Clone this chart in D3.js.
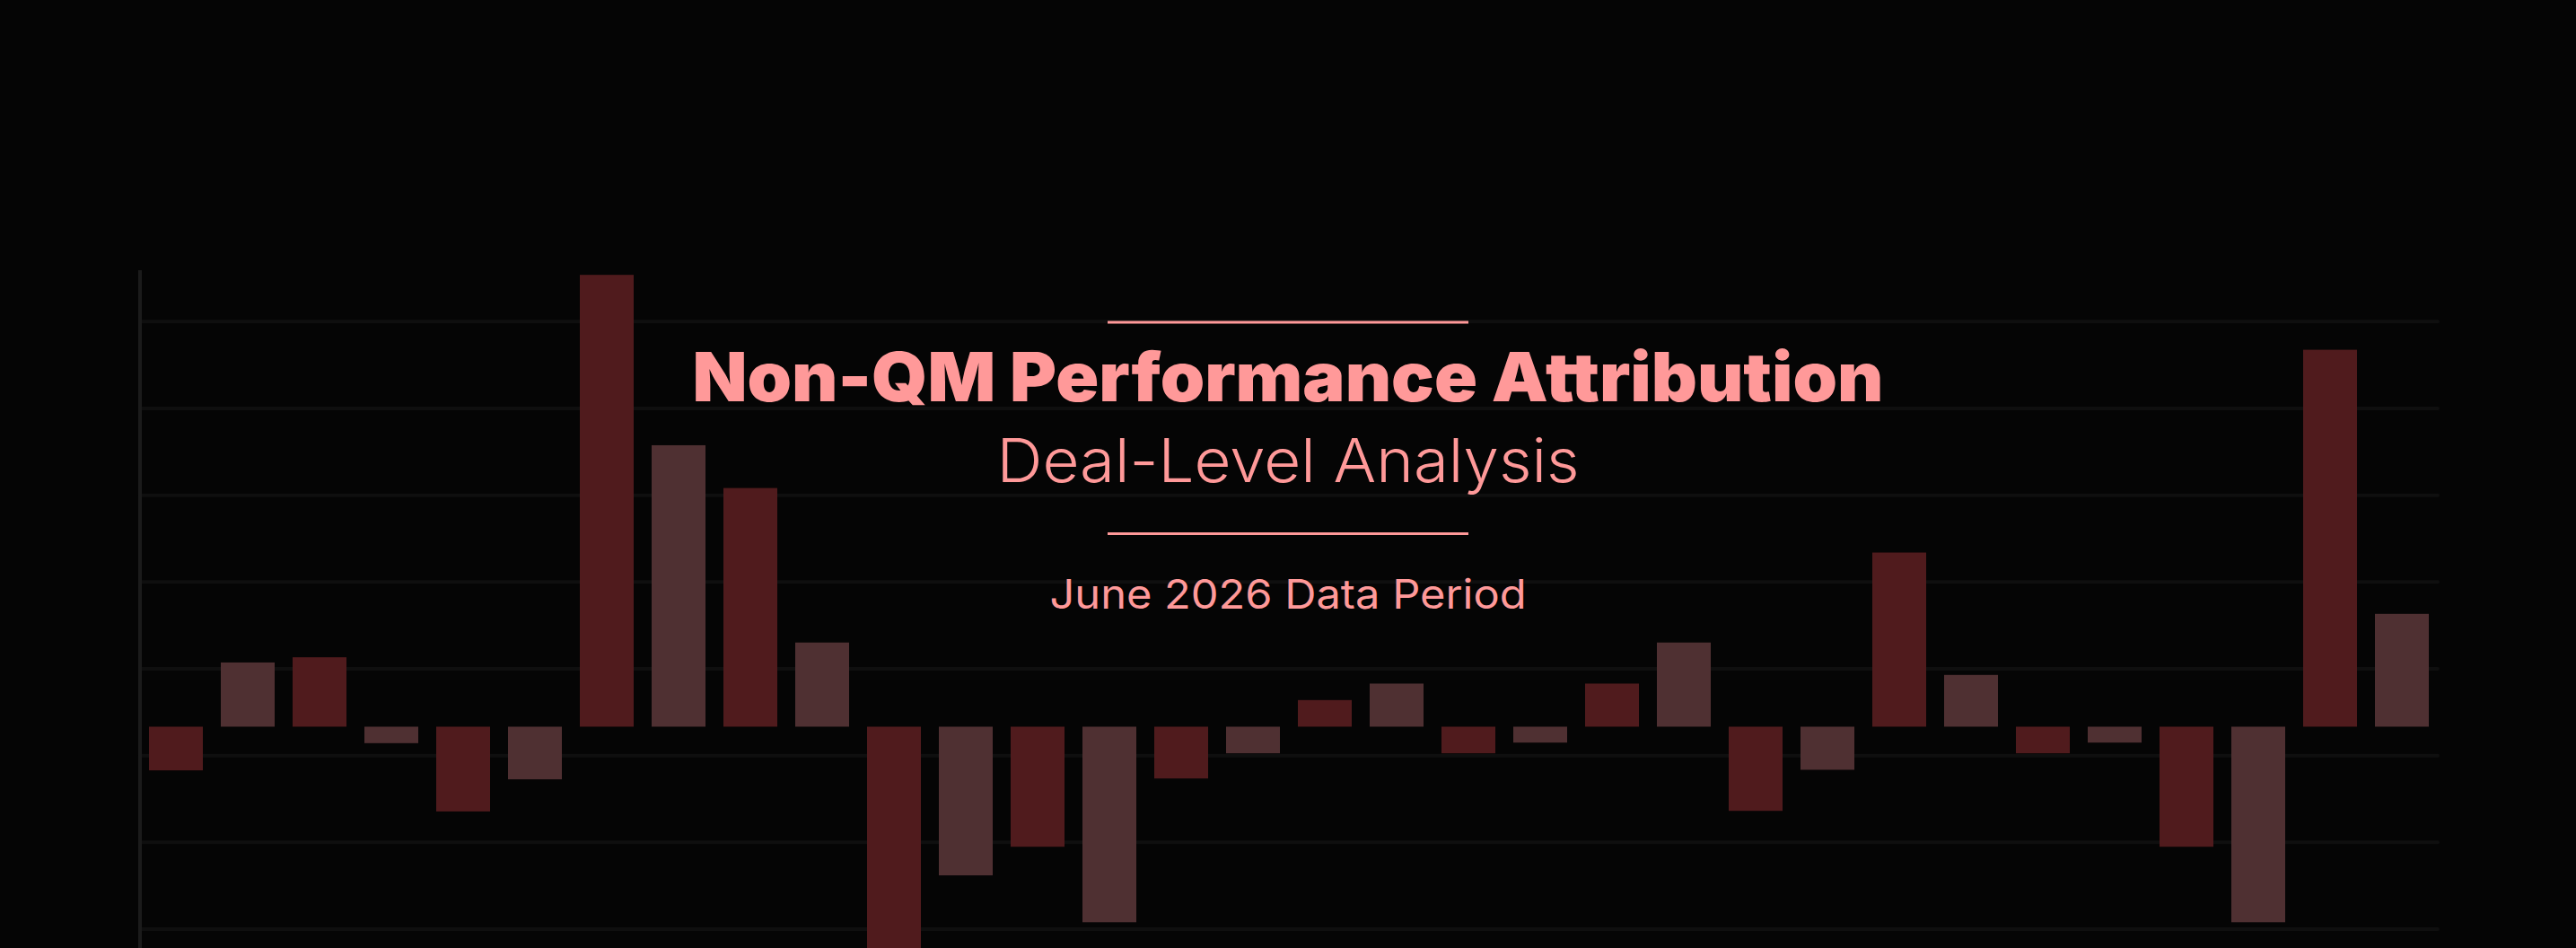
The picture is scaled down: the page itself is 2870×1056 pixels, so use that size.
<!DOCTYPE html>
<html>
<head>
<meta charset="utf-8">
<script src="https://cdn.jsdelivr.net/npm/d3@7"></script>
<style>
    html, body { margin: 0; padding: 0; background: #050505; overflow: hidden; }
    svg { display: block; }
</style>
</head>
<body>
<svg id="chart" width="2870" height="1056"></svg>
<script>
// deal-level attribution, one bar per deal
var deals = ["D01", "D02", "D03", "D04", "D05", "D06", "D07", "D08",
    "D09", "D10", "D11", "D12", "D13", "D14", "D15", "D16",
    "D17", "D18", "D19", "D20", "D21", "D22", "D23", "D24",
    "D25", "D26", "D27", "D28", "D29", "D30", "D31", "D32"];

var attribution = [-1.51, 2.22, 2.40, -0.57, -2.93, -1.82, 15.62, 9.73,
    8.25, 2.91, -8.2, -5.14, -4.15, -6.76, -1.79, -0.92,
    0.92, 1.49, -0.92, -0.55, 1.49, 2.91, -2.91, -1.49,
    6.02, 1.79, -0.92, -0.55, -4.15, -6.76, 13.03, 3.90];

var gridValues = [14, 11, 8, 5, 2, -1, -4, -7];

var titleText = "Non-QM Performance Attribution";
var subtitleText = "Deal-Level Analysis";
var periodText = "June 2026 Data Period";

var svg = d3.select("#chart");
var width = +svg.attr("width");

var margin = { top: 301, left: 156, right: 154 };

var x = d3.scaleBand()
    .domain(deals)
    .range([margin.left, width - margin.right])
    .paddingInner(0.25)
    .paddingOuter(0.125);

// chart runs past the bottom of the window, like the reference
var y = d3.scaleLinear()
    .domain([-10, 15.78])
    .range([1131.7, margin.top]);

var data = deals.map(function (d, i) {
    return { deal: d, value: attribution[i], i: i };
});

// grid
svg.append("g")
    .selectAll("line")
    .data(gridValues)
    .enter().append("line")
    .attr("x1", margin.left)
    .attr("x2", width - margin.right)
    .attr("y1", function (d) { return y(d); })
    .attr("y2", function (d) { return y(d); })
    .attr("stroke", "#0f0f0f")
    .attr("stroke-width", 4)
    .attr("stroke-linecap", "round");

// bars
svg.append("g")
    .selectAll("rect")
    .data(data)
    .enter().append("rect")
    .attr("x", function (d) { return x(d.deal); })
    .attr("width", x.bandwidth())
    .attr("y", function (d) { return y(Math.max(0, d.value)); })
    .attr("height", function (d) { return Math.abs(y(d.value) - y(0)); })
    .attr("fill", function (d) { return d.i % 2 == 0 ? "#501b1d" : "#4f3032"; });

// y axis line
svg.append("line")
    .attr("x1", margin.left).attr("x2", margin.left)
    .attr("y1", margin.top).attr("y2", y(-10))
    .attr("stroke", "#1b1b1b")
    .attr("stroke-width", 4);

// title block
var cx = width / 2;
var pink = "#ff9999";

svg.append("line")
    .attr("x1", cx - 201).attr("x2", cx + 201)
    .attr("y1", 359).attr("y2", 359)
    .attr("stroke", pink).attr("stroke-width", 3);

svg.append("text")
    .attr("x", cx).attr("y", 447)
    .attr("text-anchor", "middle")
    .attr("fill", pink)
    .attr("font-family", "Inter, 'DejaVu Sans', sans-serif")
    .attr("font-weight", 900)
    .attr("font-size", 76)
    .attr("textLength", 1327)
    .attr("lengthAdjust", "spacingAndGlyphs")
    .text(titleText);

svg.append("text")
    .attr("x", cx).attr("y", 537)
    .attr("text-anchor", "middle")
    .attr("fill", pink)
    .attr("font-family", "Inter, 'DejaVu Sans', sans-serif")
    .attr("font-weight", 300)
    .attr("font-size", 67)
    .attr("textLength", 649)
    .attr("lengthAdjust", "spacingAndGlyphs")
    .text(subtitleText);

svg.append("line")
    .attr("x1", cx - 201).attr("x2", cx + 201)
    .attr("y1", 594.5).attr("y2", 594.5)
    .attr("stroke", pink).attr("stroke-width", 3);

svg.append("text")
    .attr("x", cx).attr("y", 678)
    .attr("text-anchor", "middle")
    .attr("fill", pink)
    .attr("font-family", "Inter, 'DejaVu Sans', sans-serif")
    .attr("font-weight", 400)
    .attr("font-size", 45)
    .attr("textLength", 531)
    .attr("lengthAdjust", "spacingAndGlyphs")
    .text(periodText);
</script>
</body>
</html>
